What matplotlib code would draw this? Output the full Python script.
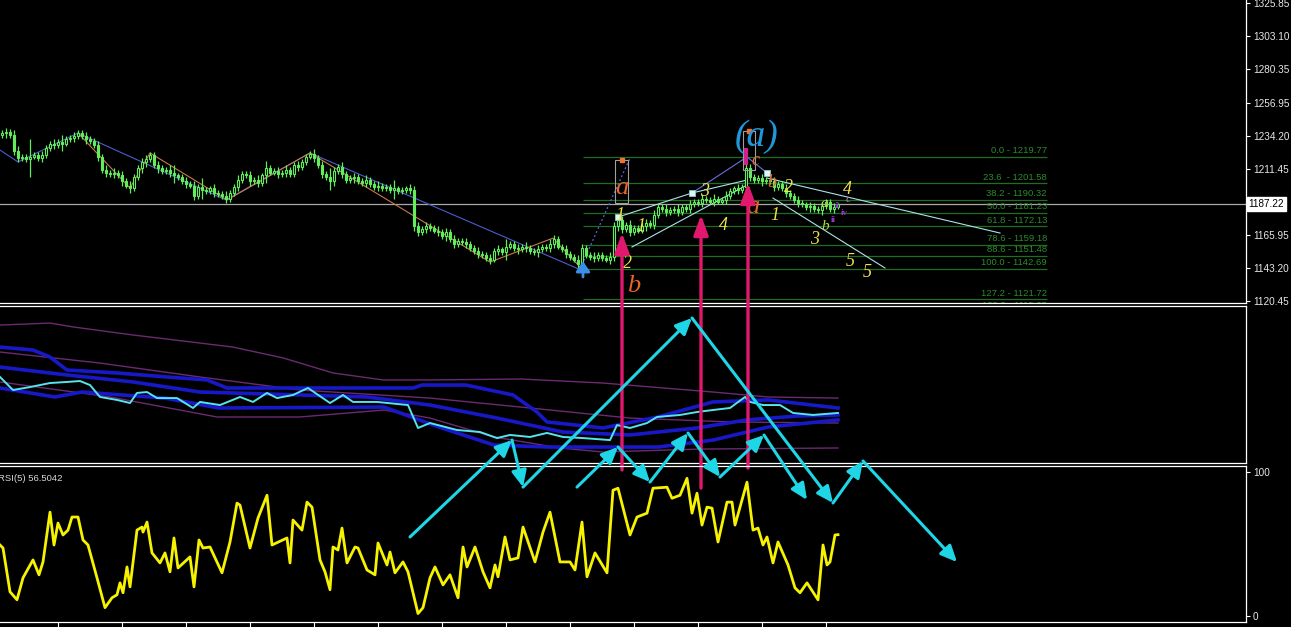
import numpy as np
import matplotlib.pyplot as plt
from matplotlib.patches import Rectangle
from matplotlib.transforms import offset_copy, blended_transform_factory

plt.rcParams['font.family'] = ['Liberation Sans', 'DejaVu Sans']

# ---------------- main window: candles (one close per bar, oldest first) ----------------
first_open = 1235.0
closes = [
    1236, 1237, 1235, 1224, 1219, 1220, 1218, 1220, 1221, 1219,
    1221, 1226, 1229, 1228, 1230, 1229, 1232, 1233, 1234, 1236,
    1234, 1232, 1231, 1228, 1220, 1211, 1209, 1208, 1209, 1207,
    1203, 1200, 1198, 1206, 1212, 1216, 1218, 1221, 1214, 1212,
    1210, 1211, 1209, 1207, 1206, 1203, 1201, 1200, 1193, 1199,
    1197, 1196, 1198, 1195, 1194, 1193, 1191, 1195, 1199, 1204,
    1208, 1207, 1203, 1204, 1202, 1207, 1212, 1209, 1210, 1208,
    1209, 1211, 1208, 1214, 1213, 1216, 1220, 1222, 1219, 1214,
    1208, 1206, 1203, 1210, 1213, 1208, 1204, 1205, 1206, 1203,
    1202, 1204, 1201, 1199, 1200, 1198, 1199, 1197, 1198, 1196,
    1197, 1198, 1197, 1172, 1168, 1170, 1172, 1171, 1169, 1168,
    1165, 1168, 1163, 1160, 1162, 1161, 1160, 1157, 1155, 1153,
    1152, 1150, 1149, 1155, 1156, 1154, 1158, 1160, 1157, 1156,
    1158, 1157, 1155, 1154, 1156, 1158, 1157, 1160, 1163, 1158,
    1156, 1153, 1151, 1149, 1146, 1157, 1152, 1151, 1150, 1152,
    1150, 1149, 1151, 1172, 1176, 1170, 1173, 1168, 1171, 1169,
    1172, 1174, 1173, 1180, 1185, 1184, 1182, 1183, 1184, 1182,
    1185, 1184, 1187, 1189, 1188, 1191, 1190, 1189, 1191, 1189,
    1190, 1193, 1196, 1198, 1197, 1199, 1212, 1206, 1204, 1205,
    1203, 1204, 1203, 1199, 1201, 1198, 1195, 1193, 1190, 1188,
    1187, 1185, 1186, 1184, 1183, 1186, 1189, 1184, 1185, 1187.22,
]
wicks = [
    2, 3, 2, 3, 3, 2, 2, 12, 2, 2,
    3, 2, 2, 3, 2, 5, 2, 2, 3, 2,
    2, 3, 2, 2, 3, 2, 3, 2, 3, 2,
    3, 2, 3, 2, 2, 3, 3, 2, 2, 3,
    2, 2, 3, 5, 2, 2, 3, 2, 3, 2,
    6, 2, 2, 3, 2, 2, 3, 2, 2, 3,
    2, 2, 3, 2, 3, 2, 5, 2, 2, 3,
    2, 3, 2, 2, 3, 2, 2, 2, 3, 2,
    3, 2, 6, 3, 2, 3, 2, 2, 3, 2,
    2, 3, 2, 2, 3, 2, 2, 2, 6, 2,
    2, 2, 3, 3, 3, 2, 3, 2, 2, 3,
    2, 3, 2, 3, 2, 2, 3, 2, 2, 3,
    2, 2, 3, 2, 3, 2, 5, 2, 2, 3,
    2, 3, 2, 2, 3, 2, 2, 3, 3, 2,
    2, 3, 2, 2, 3, 3, 2, 2, 3, 2,
    2, 2, 3, 3, 3, 3, 2, 3, 2, 2,
    2, 3, 2, 3, 2, 2, 3, 2, 2, 3,
    2, 2, 3, 2, 2, 3, 2, 2, 3, 2,
    2, 3, 2, 2, 3, 2, 8, 3, 2, 2,
    3, 2, 2, 3, 2, 2, 3, 2, 2, 3,
    2, 2, 3, 2, 2, 3, 2, 2, 3, 1,
]
last_price = 1187.22
price_ticks = [1325.85, 1303.10, 1280.35, 1256.95, 1234.20, 1211.45, 1165.95, 1143.20, 1120.45]

# zigzag indicators (bar, price)
zz_blue_x = [-0.5, 4, 19, 56, 77, 144]
zz_blue_y = [1224.5, 1216.3, 1236.2, 1190.1, 1222.5, 1142.7]
zz_orange_x = [19, 32, 37, 56.25, 77, 122, 137.75, 144.5]
zz_orange_y = [1236.2, 1198.3, 1222.5, 1190.1, 1222.5, 1147.3, 1163.8, 1143.9]

# fibonacci retracement
fib_pct = ['0.0', '23.6 ', '38.2', '50.0', '61.8', '78.6', '88.6', '100.0', '127.2', '138.2']
fib_price = [1219.77, 1201.58, 1190.32, 1181.23, 1172.13, 1159.18, 1151.48, 1142.69, 1121.72, 1113.25]
fib_from, fib_to = 145.25, 261.25

# wave-count drawings
dotted_x = [144.5, 157]
dotted_y = [1142.7, 1219.0]
peak_line_x = [172.5, 186.25, 191.25]
peak_line_y = [1194.9, 1219.77, 1208.7]
chan_up_x = [154, 172.5, 186.25]
chan_up_y = [1178.3, 1194.9, 1203.8]
chan_lo_x = [157.5, 186.25]
chan_lo_y = [1157.7, 1200.4]
trend_up_x = [191.25, 249.5]
trend_up_y = [1205.2, 1167.3]
trend_lo_x = [192.75, 220.75]
trend_lo_y = [1191.4, 1143.2]
square_x = [154, 172.5, 191.25]
square_y = [1178.3, 1194.9, 1208.7]
box_x0 = [153.25, 185.25]
box_x1 = [156.5, 188.25]
box_y0 = [1187.9, 1210.7]
box_y1 = [1217.6, 1237.5]

wave_txt = ['a', '1', '1', '2', 'b', '3', '4', '(a)', 'c', 'a', 'b', '2', '1', '3', 'b', 'a', '4', 'c', '5', '5']
wave_x = [155, 154.5, 159.75, 156.25, 158, 175.75, 180.25, 188.75, 188.25, 187.75, 192.5, 196.5,
          193.25, 203.25, 205.75, 205.5, 211.25, 211.5, 212, 216.25]
wave_y = [1198.3, 1179.7, 1172.1, 1146.2, 1131.0, 1195.6, 1172.8, 1233.5, 1217.0, 1185.2, 1201.8, 1199.0,
          1179.7, 1162.8, 1171.8, 1187.8, 1197.5, 1190.3, 1148.0, 1140.4]
wave_kind = ['abc', 'num', 'num', 'num', 'abc', 'num', 'num', 'big', 'abc_s', 'abc', 'abc_s', 'num',
             'num', 'num', 'minor', 'minor', 'num', 'sub', 'num', 'num']
roman_txt = ['ii', 'iv', 'ii']
roman_x = [208.75, 210.5, 207.75]
roman_y = [1185.8, 1181.2, 1176.0]

# vertical magenta arrows (bar, from price, to price)
mag_x = [155, 174.75, 186.5]
mag_from = [1004.0, 991.5, 1005.3]
mag_to = [1167.3, 1179.7, 1201.8]

# ---------------- window 2: bands indicator ----------------
ind_x = [-0.5, 2.75, 7, 12, 16.25, 19.5, 22, 24.5, 28.75, 32, 33.75, 36.25, 38.75, 43.75, 47.75,
         49.5, 54.5, 59.5, 62.75, 66.25, 68.75, 72.75, 76.5, 82, 85.25, 87.75, 93.75, 101.5, 104,
         107, 113.75, 119.5, 123.75, 127, 132, 136.25, 140.25, 145.25, 152, 153.75, 157, 161.25,
         163.75, 169.5, 173.75, 177.75, 182, 185.75, 187, 190.25, 194.5, 197.75, 202.75, 209]
ind_v = [54.2, 45.8, 47.7, 50.3, 51.0, 51.6, 49.0, 41.3, 39.4, 37.4, 43.9, 44.5, 40.6, 40.6, 34.2,
         38.1, 36.1, 41.3, 38.1, 43.9, 40.6, 42.6, 47.1, 37.4, 42.6, 38.1, 38.1, 36.1, 21.3,
         24.5, 20.0, 18.7, 14.8, 16.8, 15.5, 18.1, 15.5, 14.8, 13.5, 23.2, 21.3, 24.5,
         28.4, 29.7, 31.6, 32.9, 34.2, 41.3, 38.1, 36.1, 36.1, 31.0, 29.7, 31.0]

pur_top_x = [-0.5, 12, 17.75, 32.75, 49.5, 57.75, 70.25, 82.75, 95.25, 107, 129.75, 150.25, 177.75, 191.5, 209]
pur_top_v = [87.7, 89.0, 86.5, 81.3, 76.1, 73.5, 66.5, 56.8, 52.3, 52.3, 52.9, 50.3, 44.5, 41.3, 40.6]
pur_mid_x = [-0.5, 24.5, 49.5, 74.5, 107, 132, 157, 182, 209]
pur_mid_v = [70.3, 63.2, 54.2, 45.8, 40.6, 34.2, 27.7, 25.2, 24.5]
pur_low_x = [-0.5, 27, 53.75, 74.5, 95.5, 107, 123, 139.5, 150.25, 174.5, 209]
pur_low_v = [51.0, 41.3, 28.4, 28.4, 32.9, 27.7, 15.5, 8.4, 5.8, 7.7, 8.4]

blue_up_x = [-0.5, 7.75, 12, 16.25, 28.75, 41.25, 51.25, 56.25, 102.75, 105, 116, 127.75, 133.75,
             136.25, 150.25, 164, 177.75, 191.5, 209]
blue_up_v = [73.5, 71.6, 67.1, 58.7, 56.8, 54.2, 52.3, 47.1, 47.1, 49.0, 49.0, 42.6, 31.6,
             25.2, 21.3, 28.4, 38.1, 39.4, 34.2]
blue_mid_x = [-0.5, 16.25, 32.75, 49.5, 74.5, 91.25, 107, 123.75, 140.25, 157, 173.75, 186.25, 198.75, 209]
blue_mid_v = [60.6, 55.5, 51.0, 44.5, 42.6, 41.3, 36.1, 27.7, 18.7, 16.8, 21.3, 26.5, 29.0, 29.7]
blue_low_x = [-0.5, 13.25, 20, 40.75, 54.25, 95.5, 109.25, 123, 136.75, 164, 177.75, 191.5, 209]
blue_low_v = [47.1, 41.3, 44.5, 40.6, 34.2, 34.8, 21.9, 10.3, 9.0, 9.0, 13.5, 21.9, 26.5]

# ---------------- window 3: RSI(5) ----------------
rsi_x = [-0.5, 0.25, 2, 3.75, 5.25, 7.75, 9.25, 10.25, 12, 13, 14, 15.25, 16.5, 17.5, 19, 20.25,
         21.5, 23.75, 25.75, 27.5, 28.75, 29.5, 30.25, 31.25, 32, 33.75, 35, 35.25, 36.25, 37.5,
         39.5, 40.75, 42, 43, 44, 47, 48, 49.25, 50.25, 52, 55, 57, 58.75, 59.5, 62, 64, 66.25,
         67.5, 71.25, 72, 72.75, 75, 76.25, 77.5, 79.5, 80.75, 82, 82.75, 84, 85, 86.25, 88.25,
         89, 91.25, 93.25, 94, 96.25, 97, 98.25, 100.25, 101.5, 104, 105.25, 107,
         108.25, 110.25, 112, 114, 115.25, 116.25, 118.25, 120.25, 122, 123.25, 124, 125.75, 127,
         129, 130.25, 133.25, 135.25, 137, 139.5, 142, 143.25, 145, 146.25, 148.25, 151.25,
         152.75, 154, 157, 158.75, 161.25, 162.75, 166.25, 167.5, 169.5, 171.25, 172.5, 173.75,
         175, 176.25, 177.5, 179, 181.25, 182.5, 183.25, 186.25, 187.75, 189, 190.25, 191.25,
         192.75, 194, 196.5, 198.25, 199.5, 201.25, 204, 205.25, 206.25, 207, 208.25, 209]
rsi_v = [49.3, 47.2, 16.7, 11.1, 26.4, 38.9, 28.5, 37.5, 72.2, 49.3, 64.6, 56.3, 59.7, 68.8, 68.8, 52.8,
         49.3, 26.4, 5.6, 12.5, 14.6, 22.9, 16.0, 34.0, 20.1, 59.7, 61.8, 58.3, 65.3, 43.8,
         36.8, 43.8, 30.6, 54.2, 33.3, 41.0, 20.1, 52.8, 47.2, 47.9, 29.9, 51.4, 78.5, 77.1, 47.2, 68.1, 84.0,
         49.3, 54.2, 36.8, 66.7, 59.7, 79.2, 75.7, 38.9, 30.6, 18.1, 47.9, 45.8, 61.1, 36.8, 47.9,
         47.2, 31.9, 28.5, 50.7, 35.4, 44.4, 29.9, 37.5, 30.6, 1.5, 5.6, 26.4,
         34.0, 21.5, 28.5, 12.5, 47.9, 34.0, 47.9, 30.6, 19.4, 35.4, 27.1, 54.9, 38.9,
         40.3, 61.8, 37.5, 58.3, 72.2, 37.5, 37.5, 31.9, 65.3, 27.1, 43.8, 29.9,
         87.5, 88.9, 56.3, 68.8, 71.5, 88.9, 89.6, 81.9, 84.0, 95.8, 71.5, 85.4,
         63.2, 75.7, 75.0, 51.4, 79.2, 79.2, 63.2, 93.1, 59.7, 61.1, 49.3, 54.9,
         36.8, 51.4, 35.4, 19.4, 16.0, 22.9, 11.1, 49.3, 35.4, 37.5, 56.3, 56.5]
rsi_label = 'RSI(5) 56.5042'
time_ticks = [14, 30, 46, 62, 78, 94, 110, 126, 142, 158, 174, 190, 206]

# hand-drawn cyan arrows, in RSI-window units (bar, value), each leg ends with a head
arrow1_x = [102, 127.5, 130.25, 172.5, 207.75, 215.25, 238.75]
arrow1_v = [54.9, 122.5, 89.7, 207.6, 78.6, 107.9, 37.4]
arrow2_x = [143.75, 154, 162, 171.5, 179.5, 190.5, 201.25]
arrow2_v = [89.7, 117.6, 93.2, 127.4, 96.7, 126.0, 80.7]

# ---------------- styles ----------------
GREEN = '#62ee5c'
CYAN = '#1ed6e6'
MAGENTA = '#e0186e'
wave_style = {
    'abc': dict(color='#ec6428', size=19),
    'abc_s': dict(color='#ec6428', size=13),
    'num': dict(color='#f0e24a', size=13),
    'big': dict(color='#2196d8', size=27),
    'minor': dict(color='#b4d848', size=11),
    'sub': dict(color='#cc88b0', size=8),
}

W, H = 1291, 627
fig = plt.figure(figsize=(W / 100, H / 100), dpi=100, facecolor='black')


def pane(top, bottom):
    return fig.add_axes([0, 1 - bottom / H, 1246 / W, (bottom - top) / H])


ax2 = pane(306, 463)
ax1 = pane(0, 303)
ax3 = pane(465.5, 622)
ax2.set_zorder(0)
ax1.set_zorder(1)
ax3.set_zorder(2)

for ax in (ax1, ax2, ax3):
    ax.set_facecolor('none')
    ax.set_xlim(-0.5, 311)
    ax.spines['left'].set_visible(False)
    for s in ('top', 'bottom', 'right'):
        ax.spines[s].set_color('white')
        ax.spines[s].set_linewidth(0.9)
    ax.set_xticks([])
ax1.spines['top'].set_visible(False)

# ---- main window ----
ax1.set_ylim(1119.07, 1327.92)
ax1.yaxis.tick_right()
ax1.set_yticks(price_ticks)
ax1.set_yticklabels([f'{p:.2f}' for p in price_ticks])
ax1.tick_params(axis='y', colors='white', labelcolor='#e8e8e8', labelsize=7.2, length=3, width=0.8, pad=2)

ax1.axhline(last_price, color='#a8a8a8', lw=0.9, zorder=1)
lbl_tr = blended_transform_factory(ax1.transAxes, ax1.transData)
ax1.text(1.0022, last_price, f'{last_price:.2f}', transform=lbl_tr, ha='left', va='center',
         fontsize=7.2, color='black', clip_on=False,
         bbox=dict(boxstyle='square,pad=0.2', fc='white', ec='white'))

# fibonacci
ax1.hlines(fib_price, fib_from, fib_to, color='#1f6e1f', lw=0.9, zorder=1)
fib_tr = offset_copy(ax1.transData, fig=fig, y=1.5, units='dots')
for pct, p in zip(fib_pct, fib_price):
    ax1.text(fib_to, p, f'{pct} - {p:.2f}', transform=fib_tr, ha='right', va='bottom',
             fontsize=6.8, color='#2d8a2d', clip_on=True, zorder=1)

# zigzags and lines
ax1.plot(zz_blue_x, zz_blue_y, color='#4c5cd0', lw=0.8, zorder=2)
ax1.plot(zz_orange_x, zz_orange_y, color='#c8784a', lw=0.8, zorder=2)
ax1.plot(dotted_x, dotted_y, color='#5a6ae0', lw=0.9, ls=(0, (1.5, 2)), zorder=2)
ax1.plot(peak_line_x, peak_line_y, color='#6a70e0', lw=0.8, zorder=2)
for lx, ly in ((chan_up_x, chan_up_y), (chan_lo_x, chan_lo_y), (trend_up_x, trend_up_y), (trend_lo_x, trend_lo_y)):
    ax1.plot(lx, ly, color='#a8e4e8', lw=0.8, zorder=2)

# candles
c = np.array(closes, dtype=float)
o = np.concatenate([[first_open], c[:-1]])
wk = np.array(wicks, dtype=float)
hi = np.maximum(o, c) + wk
lo = np.minimum(o, c) - wk
bars = np.arange(len(c))
up = c >= o
ax1.vlines(bars, lo, hi, color=GREEN, lw=0.9, zorder=3)
ax1.bar(bars[up], np.maximum(c - o, 0.3)[up], bottom=o[up], width=0.7, color='black',
        edgecolor=GREEN, lw=0.8, zorder=4)
ax1.bar(bars[~up], (o - c)[~up], bottom=c[~up], width=0.7, color=GREEN,
        edgecolor=GREEN, lw=0.8, zorder=4)

# boxes, markers, labels
for x0, x1, y0, y1 in zip(box_x0, box_x1, box_y0, box_y1):
    ax1.add_patch(Rectangle((x0, y0), x1 - x0, y1 - y0, fill=False, ec='#a0a0a0', lw=0.8, zorder=5))
    ax1.plot((x0 + x1) / 2, y1, marker='s', ms=2.5, color='#f07030', zorder=6)
ax1.vlines(185.9, 1214, 1226, color='#d0208c', lw=3, zorder=5)
ax1.scatter(square_x, square_y, marker='s', s=18, facecolor='#dcf8f8', edgecolor='#8cc8c8', lw=0.6, zorder=6)
ax1.annotate('', xy=(145.25, 1147.8), xytext=(145.25, 1137.0),
             arrowprops=dict(arrowstyle='-|>,head_length=0.5,head_width=0.35', color='#3a8ee6',
                             lw=2, mutation_scale=12, shrinkA=0, shrinkB=0), zorder=6)

for t, x, y, k in zip(wave_txt, wave_x, wave_y, wave_kind):
    st = wave_style[k]
    ax1.text(x, y, t, color=st['color'], fontsize=st['size'], family='Liberation Serif',
             style='italic', ha='center', va='center', zorder=7)
for t, x, y in zip(roman_txt, roman_x, roman_y):
    ax1.text(x, y, t, color='#9a3ad0', fontsize=6.5, family='Liberation Serif',
             fontweight='bold', ha='center', va='center', zorder=7)

for x, y0, y1 in zip(mag_x, mag_from, mag_to):
    ax1.annotate('', xy=(x, y1), xytext=(x, y0), annotation_clip=False,
                 arrowprops=dict(arrowstyle='-|>,head_length=0.6,head_width=0.22', color=MAGENTA,
                                 lw=2.4, mutation_scale=20, shrinkA=0, shrinkB=0), zorder=8)

# ---- window 2 ----
ax2.set_ylim(-1.29, 100)
ax2.set_yticks([])
ax2.plot(pur_top_x, pur_top_v, color='#6c2a72', lw=1.0)
ax2.plot(pur_mid_x, pur_mid_v, color='#6c2a72', lw=1.0)
ax2.plot(pur_low_x, pur_low_v, color='#6c2a72', lw=1.0)
ax2.plot(blue_up_x, blue_up_v, color='#1818c8', lw=2.6)
ax2.plot(blue_mid_x, blue_mid_v, color='#1818c8', lw=2.6)
ax2.plot(blue_low_x, blue_low_v, color='#1818c8', lw=2.6)
ax2.plot(ind_x, ind_v, color='#56e4ee', lw=1.4)

# ---- window 3: RSI ----
ax3.set_ylim(-4.39, 104.74)
ax3.yaxis.tick_right()
ax3.set_yticks([0, 100])
ax3.set_yticklabels(['0', '100'])
ax3.tick_params(axis='y', colors='white', labelcolor='#e8e8e8', labelsize=7.2, length=3, width=0.8, pad=2)
ax3.set_xticks(time_ticks)
ax3.set_xticklabels([])
ax3.tick_params(axis='x', colors='white', length=4, width=0.8)
ax3.plot(rsi_x, rsi_v, color='#f6f200', lw=2.0)
ax3.text(-0.002, 0.915, rsi_label, transform=ax3.transAxes, color='#d8d8d8', fontsize=6.8,
         ha='left', va='center')

for ax_x, ax_v in ((arrow1_x, arrow1_v), (arrow2_x, arrow2_v)):
    for i in range(len(ax_x) - 1):
        ax3.annotate('', xy=(ax_x[i + 1], ax_v[i + 1]), xytext=(ax_x[i], ax_v[i]), annotation_clip=False,
                     arrowprops=dict(arrowstyle='-|>,head_length=0.7,head_width=0.32', color=CYAN,
                                     lw=2.2, mutation_scale=14, shrinkA=0, shrinkB=0))

fig.savefig('out.png', dpi=100, facecolor='black')
